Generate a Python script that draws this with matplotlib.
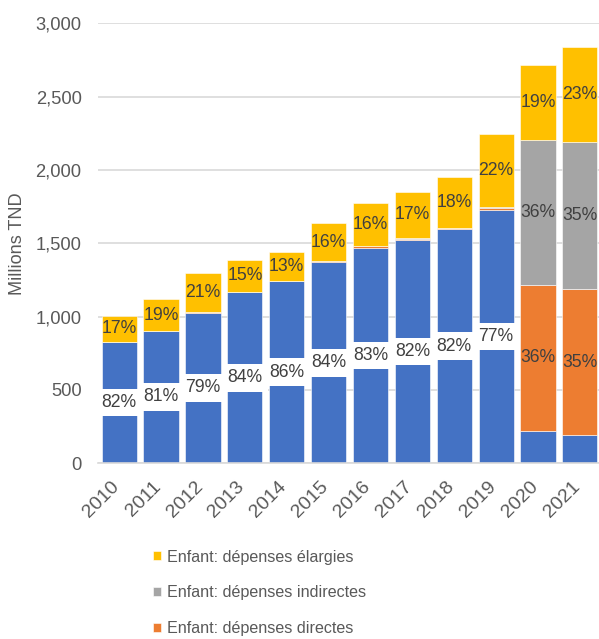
import matplotlib
matplotlib.use("Agg")
import matplotlib.pyplot as plt
import matplotlib.transforms as mtransforms
import numpy as np

plt.rcParams['font.family'] = ['Liberation Sans', 'DejaVu Sans']

years = ['2010', '2011', '2012', '2013', '2014', '2015',
         '2016', '2017', '2018', '2019', '2020', '2021']

# Millions TND per category
base = [829, 904, 1027, 1166, 1241, 1370, 1470, 1525, 1597, 1729, 222, 191]
directes = [0, 0, 4, 4, 3, 7, 10, 6, 8, 14, 992, 999]
indirectes = [0, 0, 0, 0, 0, 0, 0, 4, 0, 2, 992, 1001]
elargies = [177, 214, 269, 216, 195, 259, 295, 317, 347, 502, 507, 645]

# shares shown on the bars (None = no label)
base_pct = [82, 81, 79, 84, 86, 84, 83, 82, 82, 77, None, None]
directes_pct = [None] * 10 + [36, 35]
indirectes_pct = [None] * 10 + [36, 35]
elargies_pct = [17, 19, 21, 15, 13, 16, 16, 17, 18, 22, 19, 23]

c_blue = '#4472C4'
c_orange = '#ED7D31'
c_gray = '#A5A5A5'
c_yellow = '#FFC000'
txt = '#404040'
axis_txt = '#595959'

fig = plt.figure(figsize=(5.99, 6.39), dpi=100)
ax = fig.add_axes([0.164, 0.275, 0.839, 0.6885])

x = np.arange(len(years))
w = 0.84
series = [
    (base, c_blue, None, base_pct, True),
    (directes, c_orange, 'Enfant: dépenses directes', directes_pct, False),
    (indirectes, c_gray, 'Enfant: dépenses indirectes', indirectes_pct, False),
    (elargies, c_yellow, 'Enfant: dépenses élargies', elargies_pct, False),
]

bottom = np.zeros(len(years))
handles = {}
for vals, col, name, pcts, boxed in series:
    vals = np.array(vals, dtype=float)
    bars = ax.bar(x, vals, w, bottom=bottom, color=col, edgecolor='white',
                  linewidth=0.4, zorder=2)
    if name:
        handles[name] = bars
    for i, p in enumerate(pcts):
        if p is None:
            continue
        kw = {}
        if boxed:
            kw['bbox'] = dict(boxstyle='square,pad=0.3', fc='white', ec='none')
        ax.text(x[i], bottom[i] + vals[i] / 2, f'{p}%', ha='center', va='center',
                fontsize=12.7, color=txt, zorder=4, **kw)
    bottom += vals

ax.set_xlim(-0.5, len(years) - 0.5)
ax.set_ylim(0, 3000)
ax.set_yticks(np.arange(0, 3001, 500))
ax.yaxis.set_major_formatter(matplotlib.ticker.FuncFormatter(lambda v, _: f'{int(v):,}'))
ax.grid(axis='y', color='#D9D9D9', linewidth=1.2, zorder=0)
ax.set_axisbelow(True)
for s in ['top', 'right', 'left']:
    ax.spines[s].set_visible(False)
ax.spines['bottom'].set_color('#D9D9D9')
ax.spines['bottom'].set_linewidth(1.2)
ax.tick_params(axis='both', length=0, colors=axis_txt)
ax.tick_params(axis='y', pad=12, labelsize=13.2)
ax.tick_params(axis='x', pad=15, labelsize=14)
ax.set_xticks(x)
ax.set_xticklabels(years, rotation=45, ha='right', va='center', rotation_mode='anchor')
shift = mtransforms.ScaledTranslation(-2 / 72, 0, fig.dpi_scale_trans)
for lbl in ax.get_xticklabels():
    lbl.set_transform(lbl.get_transform() + shift)
ax.set_ylabel('Millions TND', fontsize=13.1, color=axis_txt, labelpad=7)

order = ['Enfant: dépenses élargies', 'Enfant: dépenses indirectes', 'Enfant: dépenses directes']
fig.legend([handles[k] for k in order], order, loc='upper left',
           bbox_to_anchor=(0.2554, 0.140), frameon=False, fontsize=11.6,
           labelcolor=axis_txt, handlelength=0.5, handleheight=0.5,
           handletextpad=0.34, labelspacing=1.3, borderpad=0, borderaxespad=0)

fig.savefig('out.png', dpi=100)
